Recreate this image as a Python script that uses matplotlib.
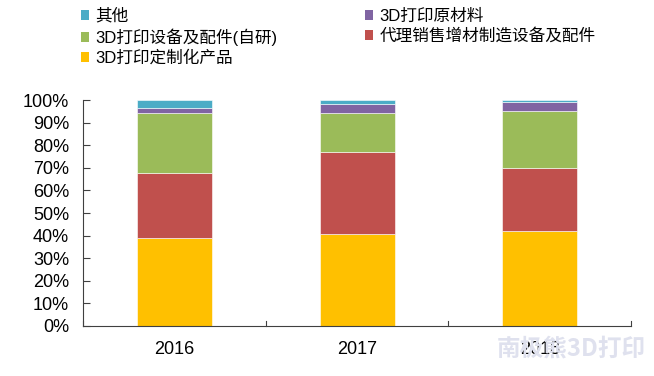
import matplotlib.pyplot as plt
import numpy as np
from matplotlib.patches import Patch

plt.rcParams['font.family'] = ['Liberation Sans', 'Noto Sans CJK SC', 'DejaVu Sans']

# Data (shares, %)
years = ["2016", "2017", "2018"]
series_names = ["3D打印定制化产品", "代理销售增材制造设备及配件", "3D打印设备及配件(自研)",
                "3D打印原材料", "其他"]
custom = [39.1, 40.6, 42.2]
agency = [28.8, 36.5, 27.6]
equipment = [26.5, 17.1, 25.3]
materials = [2.2, 3.9, 3.9]
others = [3.4, 1.9, 1.0]
colors = ["#FFC000", "#C0504D", "#9BBB59", "#8064A2", "#4BACC6"]

fig = plt.figure(figsize=(6.54, 3.76), dpi=100)
ax = fig.add_axes([0.127, 0.133, 0.838, 0.601])

x = np.arange(len(years))
bottom = np.zeros(len(years))
for vals, c in zip([custom, agency, equipment, materials, others], colors):
    ax.bar(x, vals, bottom=bottom, width=0.41, color=c, edgecolor='white', linewidth=0.4)
    bottom += np.array(vals)

ax.set_xlim(-0.5, 2.5)
ax.set_ylim(0, 100)
ax.set_yticks(range(0, 101, 10))
ax.set_yticklabels([f"{v}%" for v in range(0, 101, 10)], fontsize=13)
ax.set_xticks(x)
ax.set_xticklabels(years, fontsize=13)
ax.tick_params(axis='y', direction='in', length=5, color='#404040', pad=10)
ax.tick_params(axis='x', length=0, pad=11)
# category boundary ticks on x axis
for xb in [-0.5, 0.5, 1.5, 2.5]:
    ax.plot([xb, xb], [0, 2], color='#404040', lw=0.8, clip_on=False)
for s in ['top', 'right']:
    ax.spines[s].set_visible(False)
for s in ['left', 'bottom']:
    ax.spines[s].set_color('#404040')
    ax.spines[s].set_linewidth(0.8)

# Legend in row-major order, 2 columns
order = [4, 2, 0, 3, 1]
handles = [Patch(facecolor=colors[i], edgecolor='none') for i in order]
labels = [series_names[i] for i in order]
fig.legend(handles, labels, ncol=2, loc='upper left', bbox_to_anchor=(0.101, 1.018),
           frameon=False, fontsize=12, handlelength=0.5, handleheight=0.5,
           handletextpad=0.36, labelspacing=0.27, columnspacing=5.25)

# Watermark
fig.text(0.987, 0.04, "南极熊3D打印", ha='right', va='bottom', fontsize=17,
         fontweight='bold', color='#dfe1ee', family=['Noto Sans CJK SC', 'DejaVu Sans'])

fig.savefig("out.png", dpi=100)
